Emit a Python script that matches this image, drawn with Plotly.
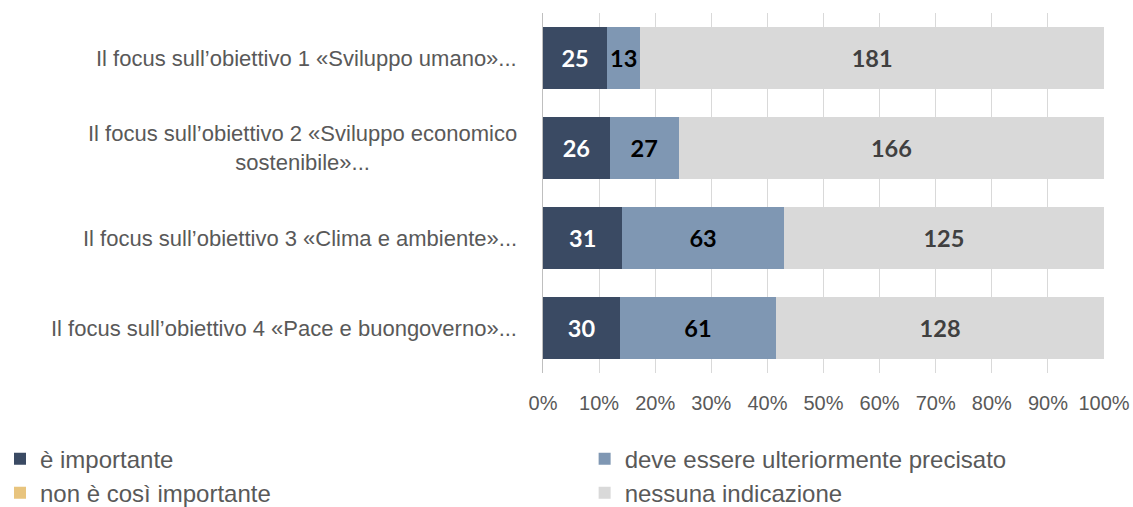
import plotly.graph_objects as go

categories = [
    "Il focus sull’obiettivo 1 «Sviluppo umano»...",
    "Il focus sull’obiettivo 2 «Sviluppo economico<br>sostenibile»...",
    "Il focus sull’obiettivo 3 «Clima e ambiente»...",
    "Il focus sull’obiettivo 4 «Pace e buongoverno»...",
]
series_names = [
    "è importante",
    "deve essere ulteriormente precisato",
    "non è così importante",
    "nessuna indicazione",
]
importante = [25, 26, 31, 30]
precisato = [13, 27, 63, 61]
non_importante = [0, 0, 0, 0]
nessuna = [181, 166, 125, 128]
tick_vals = [0, 10, 20, 30, 40, 50, 60, 70, 80, 90, 100]
tick_labels = ["0%", "10%", "20%", "30%", "40%", "50%", "60%", "70%", "80%", "90%", "100%"]

series_values = [importante, precisato, non_importante, nessuna]
colors = ["#3A4A63", "#7F97B3", "#E8C47E", "#D9D9D9"]
text_colors = ["#FFFFFF", "#000000", "#000000", "#404040"]
legend_ids = ["legend", "legend2", "legend", "legend2"]

fig = go.Figure()
for name, vals, col, tcol, lg in zip(series_names, series_values, colors, text_colors, legend_ids):
    fig.add_trace(go.Bar(
        y=categories, x=vals, name=name, orientation="h",
        marker=dict(color=col, line=dict(width=0)),
        text=[str(v) if v else "" for v in vals],
        textposition="inside", insidetextanchor="middle", textangle=0,
        textfont=dict(family="Lato, Open Sans, sans-serif", size=25, color=tcol, weight="bold"),
        hoverinfo="skip", legend=lg,
    ))

for cat in categories:
    fig.add_annotation(
        x=0, y=cat, xref="paper", yref="y", xanchor="right", xshift=-24,
        text=cat, showarrow=False, align="center",
        font=dict(family="Liberation Sans, Arial, sans-serif", size=22, color="#595959"),
    )

legend_style = dict(
    orientation="v", xref="container", yref="container",
    y=0.139, xanchor="left", yanchor="top",
    font=dict(size=24, color="#595959"),
    traceorder="normal", itemclick=False, itemdoubleclick=False,
    tracegroupgap=0, bgcolor="rgba(0,0,0,0)",
)

fig.update_layout(
    width=1133, height=507,
    margin=dict(l=543, r=29, t=13, b=134, autoexpand=False),
    barmode="stack", barnorm="percent", bargap=0.32,
    plot_bgcolor="white", paper_bgcolor="white",
    uniformtext=dict(minsize=20, mode="show"),
    font=dict(family="Liberation Sans, Arial, sans-serif", color="#595959"),
    xaxis=dict(
        range=[0, 100], tickmode="array", tickvals=tick_vals, ticktext=tick_labels,
        showgrid=True, gridcolor="#D9D9D9", gridwidth=1.3,
        zeroline=False, showline=False, ticks="",
        tickfont=dict(size=20, color="#595959"), ticklabelstandoff=16,
    ),
    yaxis=dict(
        autorange="reversed", showticklabels=False, ticks="",
        showline=True, linecolor="#BFBFBF", linewidth=1.3, showgrid=False,
    ),
    legend=dict(x=0.0, **legend_style),
    legend2=dict(x=0.516, **legend_style),
)

fig.write_html(
    "out.html",
    config={"displayModeBar": False},
    post_script="document.body.style.margin='0';document.body.style.overflow='hidden';",
)
